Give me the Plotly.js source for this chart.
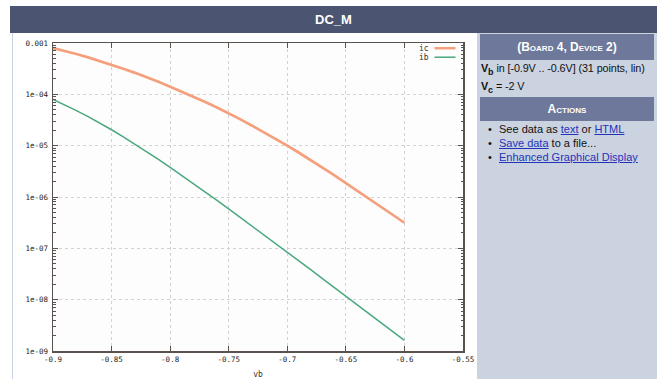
<!DOCTYPE html>
<html><head><meta charset="utf-8">
<script src="https://cdn.plot.ly/plotly-3.0.1.min.js"></script>
<style>
html,body{margin:0;padding:0;width:657px;height:379px;overflow:hidden;background:#fff;font-family:"Liberation Sans",Arial,sans-serif;}
#hdr{position:absolute;left:10px;top:6px;width:647px;height:27px;background:#4b5571;color:#fff;font-weight:bold;font-size:13px;text-align:center;line-height:27px;}
#leftp{position:absolute;left:12px;top:33px;width:465px;height:346px;background:#fff;border-left:1px solid #c9d3e6;}
#rightp{position:absolute;left:477px;top:33px;width:180px;height:346px;background:#cbd3e1;}
.box{position:absolute;left:3px;width:174px;background:#6d789a;color:#fff;font-weight:bold;text-align:center;font-variant:small-caps;font-size:12px;}
.ln{position:absolute;left:4px;font-size:10.8px;color:#111;white-space:nowrap;letter-spacing:-0.1px;}
.bl{position:absolute;left:22px;font-size:11px;color:#111;white-space:nowrap;}
.bl a{color:#2233bb;text-decoration:underline;}
.bl:before{content:"\2022";position:absolute;left:-11px;}
#chart{position:absolute;left:0;top:0;width:657px;height:379px;}
</style></head>
<body>
<div id="hdr">DC_M</div>
<div id="leftp"></div>
<div id="rightp">
  <div class="box" style="top:1px;height:26px;line-height:26px;">(Board 4, Device 2)</div>
  <div class="ln" style="top:29px;"><b>V<sub style="font-size:9px">b</sub></b> in [-0.9V .. -0.6V] (31 points, lin)</div>
  <div class="ln" style="top:47px;"><b>V<sub style="font-size:9px">c</sub></b> = -2 V</div>
  <div class="box" style="top:64px;height:24px;line-height:24px;">Actions</div>
  <div class="bl" style="top:90px;">See data as <a>text</a> or <a>HTML</a></div>
  <div class="bl" style="top:104px;"><a>Save data</a> to a file...</div>
  <div class="bl" style="top:118px;"><a>Enhanced Graphical Display</a></div>
</div>
<div id="chart"></div>
<script>
const vb = [-0.90,-0.89,-0.88,-0.87,-0.86,-0.85,-0.84,-0.83,-0.82,-0.81,-0.80,-0.79,-0.78,-0.77,-0.76,-0.75,-0.74,-0.73,-0.72,-0.71,-0.70,-0.69,-0.68,-0.67,-0.66,-0.65,-0.64,-0.63,-0.62,-0.61,-0.60];
const ic = [7.94e-4,7.00e-4,6.10e-4,5.25e-4,4.47e-4,3.75e-4,3.15e-4,2.62e-4,2.16e-4,1.75e-4,1.41e-4,1.13e-4,8.99e-5,7.08e-5,5.52e-5,4.27e-5,3.25e-5,2.45e-5,1.84e-5,1.36e-5,1.0e-5,7.28e-6,5.25e-6,3.75e-6,2.66e-6,1.87e-6,1.32e-6,9.25e-7,6.47e-7,4.52e-7,3.15e-7];
const ib = [7.94e-5,6.24e-5,4.82e-5,3.67e-5,2.76e-5,2.04e-5,1.49e-5,1.07e-5,7.66e-6,5.41e-6,3.78e-6,2.63e-6,1.82e-6,1.25e-6,8.59e-7,5.86e-7,3.99e-7,2.71e-7,1.84e-7,1.25e-7,8.45e-8,5.70e-8,3.84e-8,2.58e-8,1.74e-8,1.17e-8,7.85e-9,5.28e-9,3.56e-9,2.39e-9,1.61e-9];
const xTickVals = [-0.9,-0.85,-0.8,-0.75,-0.7,-0.65,-0.6,-0.55];
const xTickText = ["-0.9","-0.85","-0.8","-0.75","-0.7","-0.65","-0.6","-0.55"];
const yTickVals = [1e-9,1e-8,1e-7,1e-6,1e-5,1e-4,1e-3];
const yTickText = ["1e-09","1e-08","1e-07","1e-06","1e-05","1e-04","0.001"];
const seriesNames = ["ic","ib"];
const colors = ["#f5a07c","#4aa87c"];

const L=53.3, R=463.5, T=43.3, B=351, W=657, H=379;
const px = x => (x-L)/(R-L), py = y => (B-y)/(B-T);

const minorVals=[];
for(let e=-9;e<-3;e++){ [2,3,4,5,6,7,8,9].forEach(m=>minorVals.push(m*Math.pow(10,e))); }

const tickFont={family:"DejaVu Sans Mono",size:7.5,color:"#222"};
const traces=[
 {x:vb,y:ic,name:seriesNames[0],type:"scatter",mode:"lines",line:{color:colors[0],width:2.7}},
 {x:vb,y:ib,name:seriesNames[1],type:"scatter",mode:"lines",line:{color:colors[1],width:1.5}}
];
const legY=[48.5,57.5];
const layout={
 width:W,height:H,showlegend:false,
 paper_bgcolor:"rgba(0,0,0,0)",plot_bgcolor:"#fdfdfe",
 margin:{l:L,r:W-R,t:T,b:H-B,pad:0},
 xaxis:{range:[-0.9,-0.55],tickmode:"array",tickvals:xTickVals,ticktext:xTickText,
   showgrid:true,gridcolor:"#d2d2d2",griddash:"dot",gridwidth:1,zeroline:false,
   showline:true,linecolor:"#5a524f",linewidth:1.5,mirror:"ticks",ticks:"inside",ticklen:5,tickcolor:"#5a524f",
   tickfont:tickFont,title:{text:"vb",font:{family:"DejaVu Sans Mono",size:8,color:"#333"},standoff:9}},
 yaxis:{type:"log",range:[-9,-3],tickmode:"array",tickvals:yTickVals,ticktext:yTickText,
   showgrid:true,gridcolor:"#d2d2d2",griddash:"dot",gridwidth:1,zeroline:false,
   showline:true,linecolor:"#5a524f",linewidth:1.5,mirror:"ticks",ticks:"inside",ticklen:5,tickcolor:"#5a524f",
   tickfont:tickFont,ticklabelstandoff:2,
   minor:{tickmode:"array",tickvals:minorVals,ticks:"inside",ticklen:2.5,tickcolor:"#5a524f",showgrid:false}},
 annotations:seriesNames.map((n,i)=>({xref:"paper",yref:"paper",x:px(431),y:py(legY[i]),text:n,showarrow:false,xanchor:"right",yanchor:"middle",font:{family:"DejaVu Sans Mono",size:8,color:"#333"}})),
 shapes:colors.map((c,i)=>({type:"line",xref:"paper",yref:"paper",x0:px(435),x1:px(456),y0:py(legY[i]),y1:py(legY[i]),line:{color:c,width:i?1.5:2.5}}))
};
Plotly.newPlot("chart",traces,layout,{displayModeBar:false,staticPlot:true});
</script>
</body></html>
